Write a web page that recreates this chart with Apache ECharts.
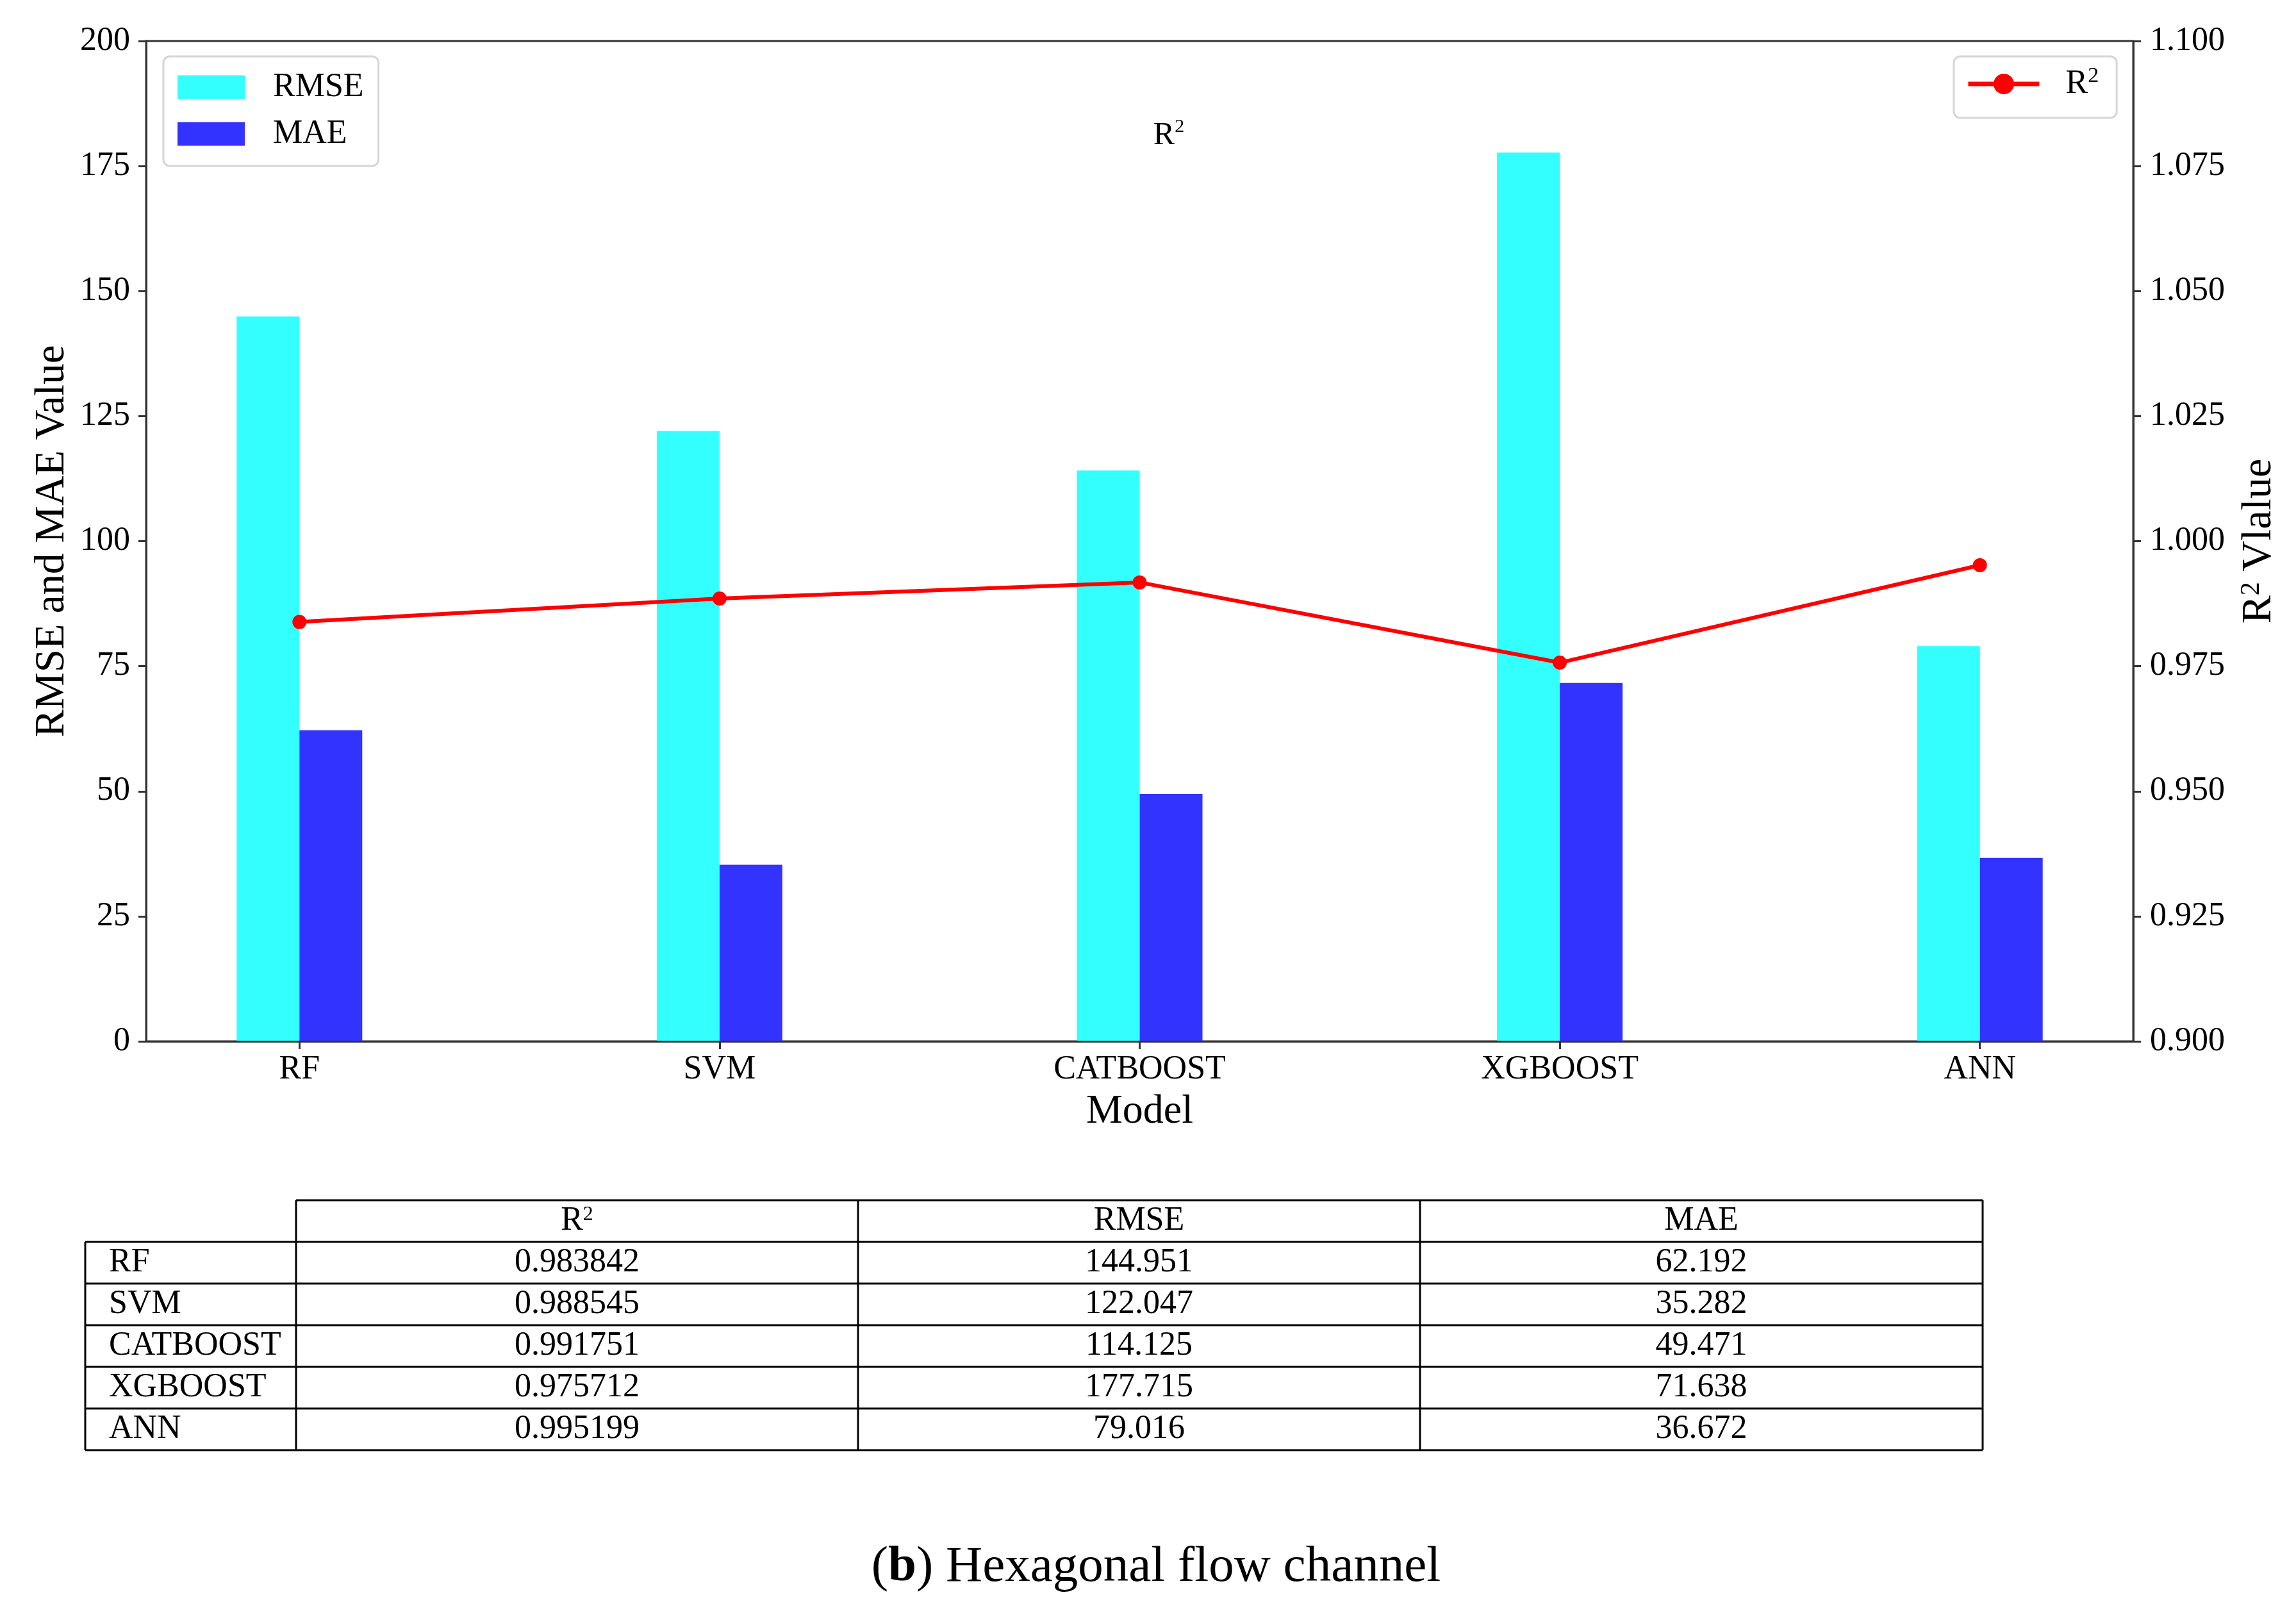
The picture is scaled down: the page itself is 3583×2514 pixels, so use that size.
<!DOCTYPE html>
<html><head><meta charset="utf-8">
<script src="https://cdn.jsdelivr.net/npm/echarts@6/dist/echarts.min.js"></script>
<style>html,body{margin:0;padding:0;background:#fff}#c{width:3583px;height:2514px}</style>
</head><body><div id="c"></div>
<script>
// ---- data ----
const models = ['RF', 'SVM', 'CATBOOST', 'XGBOOST', 'ANN'];
const r2 = [0.983842, 0.988545, 0.991751, 0.975712, 0.995199];
const rmse = [144.951, 122.047, 114.125, 177.715, 79.016];
const mae = [62.192, 35.282, 49.471, 71.638, 36.672];
const tableHeaders = ['R{sup|2}', 'RMSE', 'MAE'];
const caption = '({b|b}) Hexagonal flow channel';

// ---- layout / styles ----
const FF = 'Liberation Serif';
const AX = '#333';
const idx = models.map((_, i) => i);

const supRich = (fs) => ({ sup: { fontFamily: FF, fontSize: fs, lineHeight: fs, verticalAlign: 'top', color: '#000' } });

// table geometry
const tX = [133, 462, 1339, 2216, 3094];
const tTop = 1873, rowH = 65;
const graphics = [];
const lineStyle = { stroke: '#000', lineWidth: 3 };
graphics.push({ type: 'line', shape: { x1: tX[1], y1: tTop, x2: tX[4], y2: tTop }, style: lineStyle });
for (let k = 0; k <= models.length; k++) {
  const y = tTop + rowH * (k + 1);
  graphics.push({ type: 'line', shape: { x1: tX[0], y1: y, x2: tX[4], y2: y }, style: lineStyle });
}
const tBottom = tTop + rowH * (models.length + 1);
graphics.push({ type: 'line', shape: { x1: tX[0], y1: tTop + rowH, x2: tX[0], y2: tBottom }, style: lineStyle });
for (let c = 1; c < tX.length; c++) {
  graphics.push({ type: 'line', shape: { x1: tX[c], y1: tTop, x2: tX[c], y2: tBottom }, style: lineStyle });
}
const cellText = (txt, x, y, align) => ({
  type: 'text', x: x, y: y, z: 10,
  style: { text: txt, fontFamily: FF, fontSize: 52, fill: '#000', align: align, textAlign: align,
           verticalAlign: 'middle', textVerticalAlign: 'middle', rich: supRich(32) }
});
tableHeaders.forEach((h, c) => {
  graphics.push(cellText(h, (tX[c + 1] + tX[c + 2]) / 2, tTop + rowH / 2, 'center'));
});
models.forEach((m, i) => {
  const y = tTop + rowH * (i + 1) + rowH / 2;
  graphics.push(cellText(m, 170, y, 'left'));
  const vals = [r2[i].toFixed(6), rmse[i].toFixed(3), mae[i].toFixed(3)];
  vals.forEach((v, c) => graphics.push(cellText(v, (tX[c + 1] + tX[c + 2]) / 2, y, 'center')));
});
// title R^2
graphics.push({
  type: 'text', x: 1824, y: 212,
  style: { text: 'R{sup|2}', fontFamily: FF, fontSize: 50, lineHeight: 58, fill: '#000', align: 'center', textAlign: 'center',
           verticalAlign: 'middle', textVerticalAlign: 'middle', rich: supRich(30) }
});
// caption
graphics.push({
  type: 'text', x: 1804, y: 2446,
  style: { text: caption, fontFamily: FF, fontSize: 79, fill: '#000', align: 'center', textAlign: 'center',
           verticalAlign: 'middle', textVerticalAlign: 'middle',
           rich: { b: { fontFamily: FF, fontSize: 79, fontWeight: 'bold', color: '#000' } } }
});

const chart = echarts.init(document.getElementById('c'), null, { renderer: 'canvas' });
chart.setOption({
  backgroundColor: '#fff',
  animation: false,
  grid: { left: 228, right: 254, top: 64, bottom: 889, show: true, borderColor: AX, borderWidth: 3,
          backgroundColor: 'transparent', containLabel: false, outerBoundsMode: 'none' },
  legend: [
    {
      data: ['RMSE', 'MAE'], orient: 'vertical', left: 255, top: 88,
      padding: [22, 23, 24, 22], itemGap: 21, itemWidth: 105, itemHeight: 37, icon: 'rect',
      borderColor: '#d6d6d6', borderWidth: 3, borderRadius: 10,
      textStyle: { fontFamily: FF, fontSize: 52, color: '#000', lineHeight: 52, padding: [0, 0, 0, 39] }
    },
    {
      data: ['R2'], left: 3049, top: 88,
      padding: [14, 28, 24, 19], itemWidth: 111, itemHeight: 40,
      borderColor: '#d6d6d6', borderWidth: 3, borderRadius: 10,
      lineStyle: { width: 7, color: '#ff0000' },
      formatter: () => 'R{sup|2}',
      textStyle: { fontFamily: FF, fontSize: 52, color: '#000', lineHeight: 58, padding: [0, 0, 0, 36], rich: supRich(34) }
    }
  ],
  xAxis: {
    type: 'value', min: -0.365, max: 4.365, z: 10,
    name: 'Model', nameLocation: 'middle', nameGap: 78,
    nameTextStyle: { fontFamily: FF, fontSize: 64, color: '#000' },
    axisLine: { show: true, onZero: false, lineStyle: { color: AX, width: 3 } },
    axisTick: { show: true, length: 12, lineStyle: { color: AX, width: 3 }, customValues: idx },
    axisLabel: { show: true, margin: 18, fontFamily: FF, fontSize: 52, color: '#000', customValues: idx,
                 formatter: (v) => models[Math.round(v)] },
    splitLine: { show: false }
  },
  yAxis: [
    {
      type: 'value', min: 0, max: 200, interval: 25, position: 'left', z: 10,
      name: 'RMSE and MAE Value', nameLocation: 'middle', nameRotate: 90, nameGap: 112,
      nameTextStyle: { fontFamily: FF, fontSize: 65, color: '#000' },
      axisLine: { show: true, onZero: false, lineStyle: { color: AX, width: 3 } },
      axisTick: { show: true, length: 12, lineStyle: { color: AX, width: 3 } },
      axisLabel: { margin: 25, fontFamily: FF, fontSize: 52, color: '#000' },
      splitLine: { show: false }
    },
    {
      type: 'value', min: 0.9, max: 1.1, interval: 0.025, position: 'right', z: 10,
      name: 'R{sup|2} Vlalue', nameLocation: 'middle', nameRotate: 90, nameGap: 164,
      nameTextStyle: { fontFamily: FF, fontSize: 66, color: '#000', rich: supRich(42) },
      axisLine: { show: true, onZero: false, lineStyle: { color: AX, width: 3 } },
      axisTick: { show: true, length: 12, lineStyle: { color: AX, width: 3 } },
      axisLabel: { margin: 26, fontFamily: FF, fontSize: 52, color: '#000', formatter: (v) => v.toFixed(3) },
      splitLine: { show: false }
    }
  ],
  series: [
    { name: 'RMSE', type: 'bar', barWidth: 98, barGap: '0%', itemStyle: { color: '#33ffff' },
      data: rmse.map((v, i) => [i, v]) },
    { name: 'MAE', type: 'bar', barWidth: 98, barGap: '0%', itemStyle: { color: '#3333ff' },
      data: mae.map((v, i) => [i, v]) },
    { name: 'R2', type: 'line', yAxisIndex: 1, z: 5, symbol: 'circle', symbolSize: 22,
      lineStyle: { color: '#ff0000', width: 6 }, itemStyle: { color: '#ff0000' },
      data: r2.map((v, i) => [i, v]) }
  ],
  graphic: graphics
});
</script></body></html>
